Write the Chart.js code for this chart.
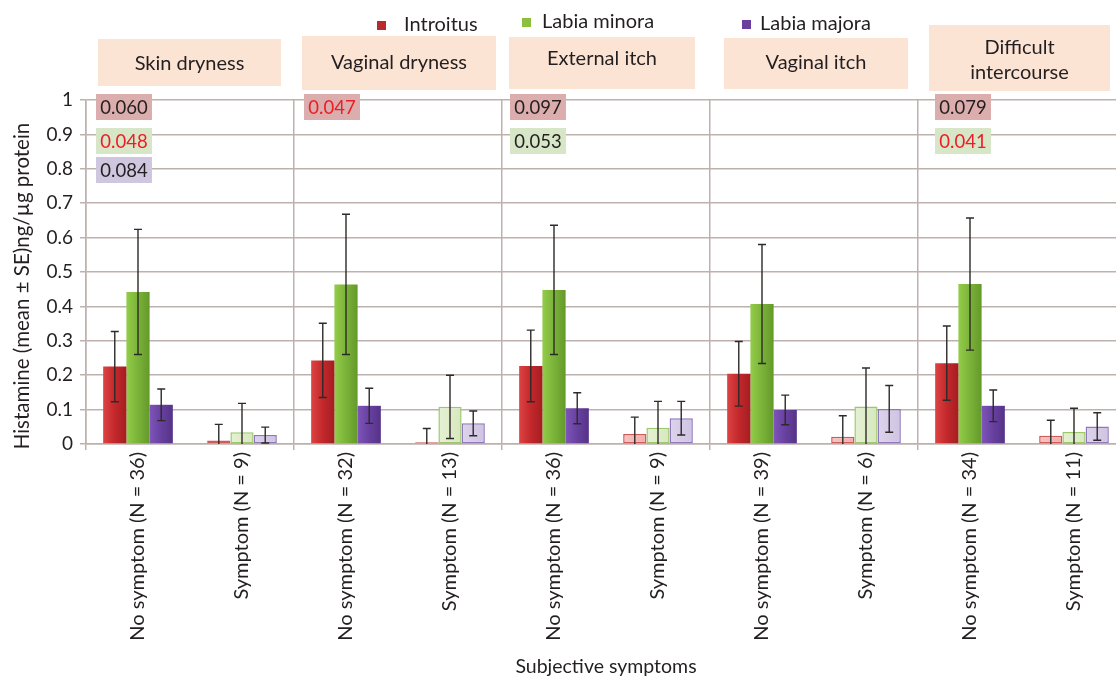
<!DOCTYPE html>
<html>
<head>
<meta charset="utf-8">
<script src="https://cdn.jsdelivr.net/npm/chart.js@4/dist/chart.umd.min.js"></script>
<style>
  html, body { margin: 0; padding: 0; background: #ffffff; overflow: hidden; }
  #wrap { width: 1116px; height: 680px; overflow: hidden; }
  canvas { display: block; }
</style>
</head>
<body>
<div id="wrap"><canvas id="chart" width="1130" height="680"></canvas></div>
<script>
// Subjective symptoms (one pair of bars per symptom)
const symptoms = ['Skin dryness', 'Vaginal dryness', 'External itch', 'Vaginal itch', ['Difficult', 'intercourse']];

// Category labels along the x axis
const groupLabels = [
  'No symptom (N = 36)', 'Symptom (N = 9)',
  'No symptom (N = 32)', 'Symptom (N = 13)',
  'No symptom (N = 36)', 'Symptom (N = 9)',
  'No symptom (N = 39)', 'Symptom (N = 6)',
  'No symptom (N = 34)', 'Symptom (N = 11)'
];

// Histamine, mean and SE (ng/µg protein)
const introitusMean = [0.225, 0.010, 0.243, 0.005, 0.227, 0.029, 0.204, 0.021, 0.235, 0.024];
const introitusSE   = [0.102, 0.047, 0.108, 0.040, 0.104, 0.049, 0.094, 0.061, 0.108, 0.045];
const minoraMean    = [0.442, 0.034, 0.464, 0.108, 0.448, 0.047, 0.407, 0.109, 0.465, 0.035];
const minoraSE      = [0.182, 0.084, 0.204, 0.092, 0.188, 0.077, 0.173, 0.112, 0.192, 0.069];
const majoraMean    = [0.114, 0.026, 0.111, 0.060, 0.104, 0.075, 0.099, 0.102, 0.111, 0.051];
const majoraSE      = [0.046, 0.023, 0.051, 0.036, 0.045, 0.049, 0.043, 0.068, 0.046, 0.040];

// P values per symptom (null where none reported)
const pIntroitus = ['0.060', '0.047', '0.097', null, '0.079'];
const pMinora    = ['0.048', null, '0.053', null, '0.041'];
const pMajora    = ['0.084', null, null, null, null];

// Y axis tick values
const yTicks = [0, 0.1, 0.2, 0.3, 0.4, 0.5, 0.6, 0.7, 0.8, 0.9, 1];

const FONT = 'Lato, "Liberation Sans", sans-serif';
const TEXT = '#231f20';
const GRID = '#bdb1ae';
const CAT_PCT = 0.67;

// Colour sets: [light, mid, dark] for solid bars, and pale fill + edge for symptom bars
const palette = [
  { solid: ['#dc4444', '#c62a2c', '#a51d22'], pale: ['#f6c4c0', '#efaeaa'], edge: '#cf5a5a', key: '#b82a2c' },
  { solid: ['#94cc4a', '#7cb63a', '#64992b'], pale: ['#e6f1d4', '#d6e8bd'], edge: '#9cc86c', key: '#8cbf3e' },
  { solid: ['#7c55b8', '#6a42a2', '#553389'], pale: ['#ddd3ec', '#cfc3e2'], edge: '#8f78bb', key: '#6a3f9e' }
];

function barFill(ctx) {
  const set = palette[ctx.datasetIndex];
  const pale = ctx.dataIndex % 2 === 1;
  const fallback = pale ? set.pale[0] : set.solid[1];
  const chart = ctx.chart;
  const xs = chart.scales && chart.scales.x;
  if (ctx.type !== 'data' || !chart.chartArea || !xs) return fallback;
  const cx = xs.getPixelForTick(ctx.dataIndex);
  const w = xs.width / groupLabels.length;
  if (!Number.isFinite(cx) || !Number.isFinite(w) || w <= 0) return fallback;
  const gw = w * CAT_PCT, bw = gw / 3;
  const left = cx - gw / 2 + ctx.datasetIndex * bw;
  const g = chart.ctx.createLinearGradient(left, 0, left + bw, 0);
  if (pale) {
    g.addColorStop(0, set.pale[0]);
    g.addColorStop(1, set.pale[1]);
  } else {
    g.addColorStop(0, set.solid[0]);
    g.addColorStop(0.45, set.solid[1]);
    g.addColorStop(1, set.solid[2]);
  }
  return g;
}

function makeDataset(label, data, se, i) {
  return {
    label: label,
    data: data,
    se: se,
    backgroundColor: barFill,
    borderColor: ctx => ctx.dataIndex % 2 === 1 ? palette[i].edge : 'rgba(0,0,0,0)',
    borderWidth: ctx => ctx.dataIndex % 2 === 1 ? 1.5 : 0,
    borderSkipped: false,
    categoryPercentage: CAT_PCT,
    barPercentage: 1.0
  };
}

// Whiskers for mean ± SE (lower end stops at the axis)
const errorBars = {
  id: 'errorBars',
  afterDatasetsDraw(chart) {
    const c = chart.ctx, ys = chart.scales.y;
    c.save();
    c.strokeStyle = '#2e2a2a';
    c.lineWidth = 1.4;
    chart.data.datasets.forEach((ds, di) => {
      const meta = chart.getDatasetMeta(di);
      meta.data.forEach((bar, i) => {
        const m = ds.data[i], s = ds.se[i];
        const yt = ys.getPixelForValue(m + s);
        const yb = ys.getPixelForValue(Math.max(0, m - s));
        const x = bar.x, cap = 4;
        c.beginPath();
        c.moveTo(x, yt); c.lineTo(x, yb);
        c.moveTo(x - cap, yt); c.lineTo(x + cap, yt);
        if (m - s > 0) { c.moveTo(x - cap, yb); c.lineTo(x + cap, yb); }
        c.stroke();
      });
    });
    c.restore();
  }
};

// Symptom header boxes, legend, p-value boxes and the y title
const headerBoxes = [
  { x0: 98, x1: 281, y0: 39, y1: 86, ty: [64] },
  { x0: 302, x1: 496, y0: 36, y1: 90, ty: [63] },
  { x0: 509, x1: 695, y0: 37, y1: 89, ty: [59] },
  { x0: 724, x1: 908, y0: 38, y1: 89, ty: [63] },
  { x0: 929, x1: 1110, y0: 25, y1: 91, ty: [48, 73] }
];
const pBoxLeft = [96, 304, 510, 0, 935];
const pRowTop = [94, 128, 157];
const pBoxFill = ['#dbadad', '#d8e6c8', '#cfc7df'];
const legendItems = [
  { name: 'Introitus', sx: 377, tx: 404, y: 25 },
  { name: 'Labia minora', sx: 522, tx: 542, y: 22 },
  { name: 'Labia majora', sx: 742, tx: 760, y: 24 }
];

const decorations = {
  id: 'decorations',
  afterDraw(chart) {
    const c = chart.ctx;
    c.save();
    // legend
    c.font = '20px ' + FONT;
    c.textBaseline = 'middle';
    c.textAlign = 'left';
    legendItems.forEach((it, i) => {
      c.fillStyle = palette[i].key;
      c.fillRect(it.sx, it.y - 4, 9, 9);
      c.fillStyle = TEXT;
      c.fillText(it.name, it.tx, it.y);
    });
    // symptom headers
    c.textAlign = 'center';
    c.font = '20px ' + FONT;
    headerBoxes.forEach((b, i) => {
      c.fillStyle = '#fce4d5';
      c.fillRect(b.x0, b.y0, b.x1 - b.x0, b.y1 - b.y0);
      c.fillStyle = TEXT;
      const lines = Array.isArray(symptoms[i]) ? symptoms[i] : [symptoms[i]];
      lines.forEach((t, k) => c.fillText(t, (b.x0 + b.x1) / 2, b.ty[k]));
    });
    // p values
    c.font = '18.5px ' + FONT;
    [pIntroitus, pMinora, pMajora].forEach((arr, row) => {
      arr.forEach((p, g) => {
        if (p === null) return;
        const x0 = pBoxLeft[g], y0 = pRowTop[row];
        c.fillStyle = pBoxFill[row];
        c.fillRect(x0, y0, 56, 26);
        c.fillStyle = parseFloat(p) < 0.05 ? '#ee1c24' : TEXT;
        c.fillText(p, x0 + 28, y0 + 14);
      });
    });
    // y axis title
    c.translate(22, 286);
    c.rotate(-Math.PI / 2);
    c.font = '20.5px ' + FONT;
    c.fillStyle = TEXT;
    c.fillText('Histamine (mean \u00b1 SE)ng/\u00b5g protein', 0, 0);
    c.restore();
  }
};

new Chart(document.getElementById('chart'), {
  type: 'bar',
  data: {
    labels: groupLabels,
    datasets: [
      makeDataset('Introitus', introitusMean, introitusSE, 0),
      makeDataset('Labia minora', minoraMean, minoraSE, 1),
      makeDataset('Labia majora', majoraMean, majoraSE, 2)
    ]
  },
  options: {
    responsive: false,
    animation: false,
    devicePixelRatio: 1,
    layout: { padding: { top: 100, right: 4, left: 0, bottom: 0 } },
    plugins: { legend: { display: false }, tooltip: { enabled: false } },
    scales: {
      x: {
        offset: true,
        afterFit: s => { s.height = 236; },
        grid: {
          offset: true,
          color: ctx => (ctx.index % 2 === 0 ? GRID : 'rgba(0,0,0,0)'),
          lineWidth: 1.5,
          tickLength: 6,
          drawOnChartArea: true
        },
        border: { display: true, color: GRID, width: 1.5 },
        ticks: {
          minRotation: 90, maxRotation: 90, autoSkip: false,
          color: TEXT, font: { family: FONT, size: 20 }, padding: 2
        },
        title: {
          display: true, text: 'Subjective symptoms',
          color: TEXT, font: { family: FONT, size: 19.5 }, padding: { top: 0, bottom: 2 }
        }
      },
      y: {
        min: 0, max: 1,
        afterFit: s => { s.width = 86; },
        afterBuildTicks: s => { s.ticks = yTicks.map(v => ({ value: v })); },
        grid: { color: GRID, lineWidth: 1.5, tickLength: 6 },
        border: { display: true, color: GRID, width: 1.5 },
        ticks: {
          color: TEXT, font: { family: FONT, size: 19 }, padding: 7,
          callback: v => String(Math.round(v * 10) / 10)
        }
      }
    }
  },
  plugins: [errorBars, decorations]
});
</script>
</body>
</html>
